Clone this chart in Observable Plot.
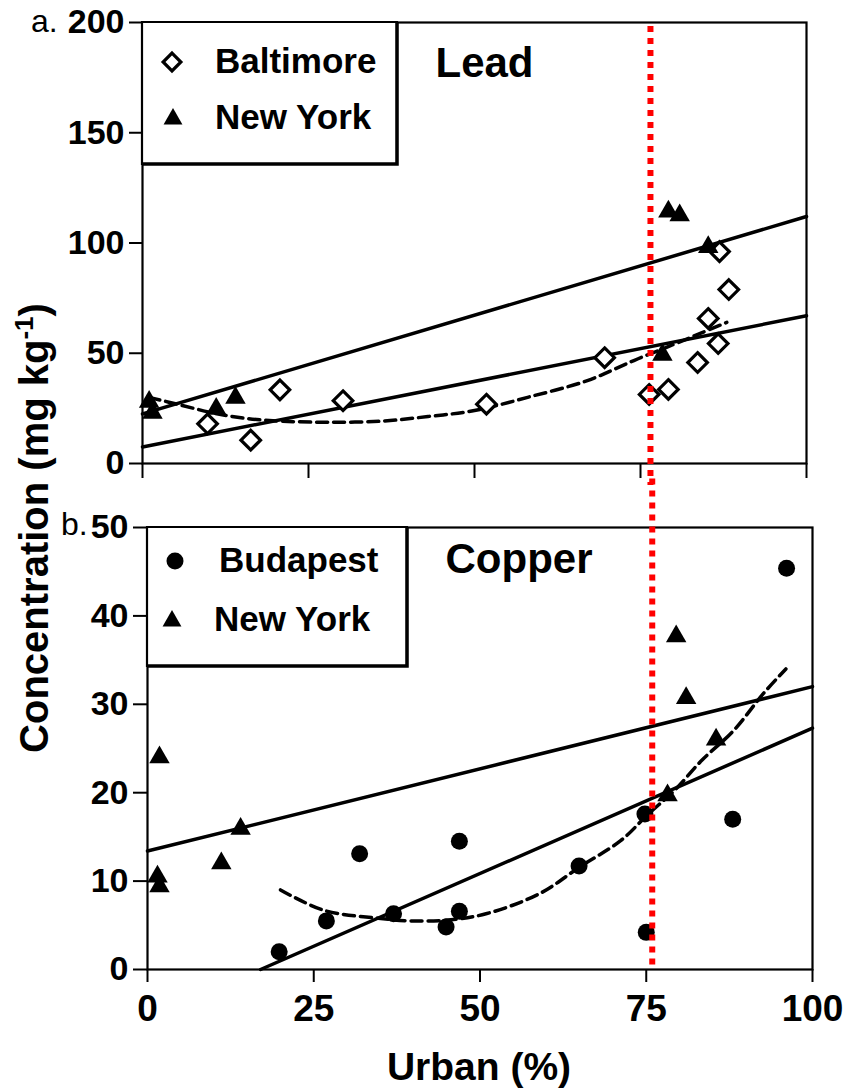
<!DOCTYPE html>
<html><head><meta charset="utf-8">
<script src="https://cdn.jsdelivr.net/npm/d3@7"></script>
<script src="https://cdn.jsdelivr.net/npm/@observablehq/plot@0.6"></script>
<style>
body{margin:0;background:#fff;font-family:"Liberation Sans",Arial,sans-serif;}
#fig{position:relative;width:845px;height:1091px;overflow:hidden;background:#fff;}
#fig > svg, #fig > div{position:absolute;}
</style></head><body><div id="fig"></div>
<script>
// ---------- data ----------
const xTicks = [0, 25, 50, 75, 100];
const leadTicks = [0, 50, 100, 150, 200];
const copperTicks = [0, 10, 20, 30, 40, 50];
const urbanThreshold = [76.5];
const urbanThresholdB = [75.9];

// Panel a: Lead
const leadBaltX = [9.8, 16.3, 20.7, 30.2, 51.8, 69.6, 76.3, 79.2, 83.6, 85.2, 86.7, 86.9, 88.3];
const leadBaltY = [18.0, 10.6, 33.4, 28.5, 26.9, 48.0, 31.3, 33.6, 45.8, 65.8, 54.4, 96.1, 78.9];
const leadNYX = [1.0, 1.5, 11.1, 14.0, 78.3, 79.2, 80.9, 85.2];
const leadNYY = [28.0, 23.0, 24.8, 29.8, 49.3, 114.3, 112.5, 98.1];
const leadNYFitX = [0, 100];
const leadNYFitY = [22.5, 112];
const leadBaltFitX = [0, 100];
const leadBaltFitY = [7.5, 67];
const leadCurveX = [1, 6, 11, 16, 21, 28, 36, 43, 50, 58, 67, 74, 80, 84, 88];
const leadCurveY = [30, 26.3, 22.7, 20.3, 19.2, 18.7, 19.2, 21.3, 24, 30, 37.6, 46.7, 54, 59, 64];

// Panel b: Copper
const cuBudX = [19.8, 26.9, 31.9, 37.0, 44.9, 46.9, 46.9, 64.9, 74.8, 75.0, 88.0, 96.1];
const cuBudY = [2.0, 5.5, 13.1, 6.3, 4.8, 6.6, 14.5, 11.7, 17.6, 4.2, 17.0, 45.4];
const cuNYX = [1.5, 1.8, 1.8, 11.1, 14.0, 78.2, 79.5, 81.0, 85.5];
const cuNYY = [10.5, 9.4, 24.0, 12.0, 15.9, 19.7, 37.7, 30.7, 26.0];
const cuNYFitX = [0, 100];
const cuNYFitY = [13.4, 32];
const cuBudFitX = [17, 100];
const cuBudFitY = [0, 27.3];
const cuCurveX = [20, 26.5, 34.7, 39.5, 45.2, 50.9, 59, 65, 71.2, 75.2, 79.3, 83.4, 88.1, 92.6, 96];
const cuCurveY = [9.0, 6.7, 5.8, 5.5, 5.6, 6.3, 8.6, 11.6, 14.6, 17.5, 20.3, 23.7, 27, 31.2, 34];

// ---------- helpers ----------
const FONT = '"Liberation Sans", Arial, sans-serif';
const pts = (xs, ys) => xs.map((x, i) => ({x, y: ys[i]}));
const fig = document.getElementById("fig");
const baseStyle = {fontFamily: FONT, fontWeight: "bold", background: "transparent", overflow: "visible", color: "black"};

function setTickFont(svg, axis, size) {
  d3.select(svg).selectAll(`g[aria-label="${axis}-axis tick label"] text, g[aria-label="${axis}-axis tick label"]`)
    .attr("font-size", size).style("font-size", size + "px");
}

// ---------- panel a ----------
const topPlot = Plot.plot({
  width: 845, height: 485,
  marginTop: 22, marginBottom: 22, marginLeft: 142, marginRight: 39,
  style: baseStyle,
  x: {domain: [0, 100]},
  y: {domain: [0, 200]},
  marks: [
    Plot.axisY(leadTicks, {tickSize: 13, tickPadding: 5, strokeWidth: 2, fontSize: 34, label: null}),
    Plot.axisX(xTicks, {tickSize: 15, strokeWidth: 2, tickFormat: () => "", label: null}),
    Plot.frame({strokeWidth: 2.2}),
    Plot.line(pts(leadNYFitX, leadNYFitY), {x: "x", y: "y", strokeWidth: 3.5}),
    Plot.line(pts(leadBaltFitX, leadBaltFitY), {x: "x", y: "y", strokeWidth: 3.5}),
    Plot.line(pts(leadCurveX, leadCurveY), {x: "x", y: "y", strokeWidth: 3.5, strokeDasharray: "11,6", curve: "catmull-rom"}),
    Plot.dot(pts(leadBaltX, leadBaltY), {x: "x", y: "y", symbol: "diamond2", r: 8.8, fill: "white", stroke: "black", strokeWidth: 3.2}),
    Plot.dot(pts(leadNYX, leadNYY), {x: "x", y: "y", symbol: "triangle", r: 7.6, fill: "black", stroke: "none"}),
    Plot.ruleX(urbanThreshold, {y1: 198.2, y2: -10, stroke: "#ff0000", strokeWidth: 6, strokeDasharray: "6,6"}),
    Plot.text(["Lead"], {frameAnchor: "top-left", dx: 293, dy: 25, fontSize: 42, fontWeight: "bold"})
  ]
});
setTickFont(topPlot, "y", 34);
topPlot.style.left = "0px"; topPlot.style.top = "0px";
fig.appendChild(topPlot);

// ---------- panel b ----------
const botPlot = Plot.plot({
  width: 845, height: 606,
  marginTop: 42, marginBottom: 122, marginLeft: 147, marginRight: 33,
  style: baseStyle,
  x: {domain: [0, 100]},
  y: {domain: [0, 50]},
  marks: [
    Plot.axisY(copperTicks, {tickSize: 14, tickPadding: 5, strokeWidth: 2, fontSize: 34, label: null}),
    Plot.axisX(xTicks, {tickSize: 13, tickPadding: 12, strokeWidth: 2, fontSize: 37, label: null}),
    Plot.frame({strokeWidth: 2.2}),
    Plot.line(pts(cuNYFitX, cuNYFitY), {x: "x", y: "y", strokeWidth: 3.5}),
    Plot.line(pts(cuBudFitX, cuBudFitY), {x: "x", y: "y", strokeWidth: 3.5}),
    Plot.line(pts(cuCurveX, cuCurveY), {x: "x", y: "y", strokeWidth: 3.5, strokeDasharray: "11,6", curve: "catmull-rom"}),
    Plot.dot(pts(cuBudX, cuBudY), {x: "x", y: "y", r: 8.5, fill: "black", stroke: "none"}),
    Plot.dot(pts(cuNYX, cuNYY), {x: "x", y: "y", symbol: "triangle", r: 7.6, fill: "black", stroke: "none"}),
    Plot.ruleX(urbanThresholdB, {y1: 55.5, y2: 0.1, stroke: "#ff0000", strokeWidth: 6, strokeDasharray: "6,6"}),
    Plot.text(["Copper"], {frameAnchor: "top-left", dx: 298, dy: 16, fontSize: 42, fontWeight: "bold"})
  ]
});
setTickFont(botPlot, "y", 34);
setTickFont(botPlot, "x", 37);
botPlot.style.left = "0px"; botPlot.style.top = "485px";
fig.appendChild(botPlot);

// ---------- overlay: legends, panel letters, axis titles ----------
const ov = d3.select(fig).append("svg")
  .attr("width", 845).attr("height", 1091)
  .style("left", "0px").style("top", "0px")
  .style("pointer-events", "none")
  .attr("font-family", FONT);

function legend(box, items) {
  const g = ov.append("g");
  g.append("rect").attr("x", box.x).attr("y", box.y).attr("width", box.w).attr("height", box.h)
    .attr("fill", "white").attr("stroke", "none");
  g.append("path").attr("d", `M${box.x},${box.y}H${box.x + box.w}V${box.y + box.h}H${box.x}Z`)
    .attr("fill", "none").attr("stroke", "black").attr("stroke-width", 2.2);
  g.append("path").attr("d", `M${box.x + box.w},${box.y}V${box.y + box.h}H${box.x}`)
    .attr("fill", "none").attr("stroke", "black").attr("stroke-width", 3.5);
  for (const it of items) {
    const sym = it.symbol === "diamond2" ? d3.symbolDiamond2 : it.symbol === "triangle" ? d3.symbolTriangle : d3.symbolCircle;
    g.append("path").attr("transform", `translate(${it.sx},${it.sy})`)
      .attr("d", d3.symbol(sym, it.size)())
      .attr("fill", it.fill).attr("stroke", it.stroke).attr("stroke-width", it.sw);
    g.append("text").attr("x", it.tx).attr("y", it.ty).attr("font-size", 35).attr("font-weight", "bold")
      .text(it.label);
  }
}
legend({x: 142, y: 22, w: 255, h: 142}, [
  {symbol: "diamond2", sx: 172, sy: 62, size: Math.PI * 8 * 8, fill: "white", stroke: "black", sw: 3.2, tx: 215, ty: 73, label: "Baltimore"},
  {symbol: "triangle", sx: 173, sy: 119, size: Math.PI * 7 * 7, fill: "black", stroke: "none", sw: 0, tx: 215, ty: 129, label: "New York"}
]);
legend({x: 147, y: 527, w: 260, h: 139}, [
  {symbol: "circle", sx: 175, sy: 561, size: Math.PI * 8.5 * 8.5, fill: "black", stroke: "none", sw: 0, tx: 219, ty: 572, label: "Budapest"},
  {symbol: "triangle", sx: 172, sy: 621, size: Math.PI * 7 * 7, fill: "black", stroke: "none", sw: 0, tx: 214, ty: 631, label: "New York"}
]);

ov.append("text").attr("x", 31).attr("y", 32).attr("font-size", 32).text("a.");
ov.append("text").attr("x", 61).attr("y", 535).attr("font-size", 32).text("b.");

const yt = ov.append("text").attr("transform", "translate(48,528) rotate(-90)")
  .attr("text-anchor", "middle").attr("font-size", 40).attr("font-weight", "bold");
yt.append("tspan").text("Concentration (mg kg");
yt.append("tspan").attr("font-size", 26).attr("dy", -15).text("-1");
yt.append("tspan").attr("dy", 15).text(")");

ov.append("text").attr("x", 479).attr("y", 1080).attr("text-anchor", "middle")
  .attr("font-size", 39).attr("font-weight", "bold").text("Urban (%)");
</script>
</body></html>
